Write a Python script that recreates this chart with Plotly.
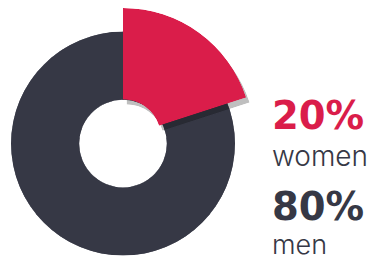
import math
import plotly.graph_objects as go

# ---- data ----
categories = ["women", "men"]
shares = [20, 80]            # percent
share_labels = ["20%", "80%"]
colors = ["#DA1D4A", "#363845"]
highlight = "women"

# page has an 8px body margin: figure is drawn inside the window offset by OFF
OFF = 8
W, H = 378 - 2 * OFF, 261 - OFF

def dom_x(a, b):
    a, b = a - OFF, b - OFF
    return [max(0, a / W), min(1, b / W)]

def dom_y(top, bottom):
    top, bottom = top - OFF, bottom - OFF
    return [max(0, 1 - bottom / H), min(1, 1 - top / H)]

# angular positions from the data (clockwise from north)
starts = []
acc = 0
for s in shares:
    starts.append(acc)
    acc += s
thetas = [(st + s / 2) * 3.6 for st, s in zip(starts, shares)]
widths = [s * 3.6 for s in shares]

fig = go.Figure()

# base ring (both slices in dark)
fig.add_trace(go.Barpolar(
    r=[1] * len(shares), theta=thetas, width=widths,
    marker=dict(color=colors[1], line=dict(color=colors[1], width=1)),
    subplot="polar", hoverinfo="skip", showlegend=False))

hi = categories.index(highlight)
# shadow of highlighted slice
fig.add_trace(go.Barpolar(
    r=[1], theta=[thetas[hi]], width=[widths[hi]],
    marker=dict(color="rgba(0,0,0,0.25)", line=dict(width=0)),
    subplot="polar2", hoverinfo="skip", showlegend=False))
# highlighted slice
fig.add_trace(go.Barpolar(
    r=[1], theta=[thetas[hi]], width=[widths[hi]],
    marker=dict(color=colors[hi], line=dict(width=0)),
    subplot="polar3", hoverinfo="skip", showlegend=False))

ang = dict(visible=False, rotation=90, direction="clockwise")
rad = dict(visible=False, range=[0, 1])

# base ring: centre (123,143.6) radius 112 (window pixels)
cx, cy, R = 123, 143.6, 112
base = dict(domain=dict(x=dom_x(cx - R, cx + R), y=dom_y(cy - R, cy + R)),
            hole=43.8 / R, bgcolor="rgba(0,0,0,0)",
            angularaxis=ang, radialaxis=rad)

# highlighted wedge sector (screen degrees ccw from east)
sector = [90 - (starts[hi] + shares[hi]) * 3.6, 90 - starts[hi] * 3.6]
sx = max(math.cos(math.radians(sector[0])), math.cos(math.radians(sector[1])))

def wedge(cx, cy, R, hole):
    return dict(domain=dict(x=dom_x(cx, cx + R * sx), y=dom_y(cy - R, cy)),
                sector=sector, hole=hole, bgcolor="rgba(0,0,0,0)",
                angularaxis=ang, radialaxis=rad)

R2 = 129.5
fig.update_layout(
    polar=base,
    polar2=wedge(126.5, 142.5, R2, 37.9 / R2),
    polar3=wedge(123, 137.5, R2, 37.9 / R2),
)

text_dark = colors[1]
ann = [
    (share_labels[0], 115.5, colors[hi], 38.5, "DejaVu Sans", 700),
    (categories[0], 155.5, text_dark, 28, "Inter", 300),
    (share_labels[1], 206, text_dark, 38.5, "DejaVu Sans", 700),
    (categories[1], 244, text_dark, 27, "Inter", 300),
]
for t, y, c, size, fam, wgt in ann:
    fig.add_annotation(text=t, x=(271 - OFF) / W, y=1 - (y - OFF) / H,
                       xref="paper", yref="paper", borderpad=0,
                       xanchor="left", yanchor="middle", showarrow=False,
                       font=dict(family=fam, size=size, color=c, weight=wgt))

fig.update_layout(width=W, height=H, margin=dict(l=0, r=0, t=0, b=0),
                  paper_bgcolor="white", plot_bgcolor="white", showlegend=False)

fig.write_html("out.html")
